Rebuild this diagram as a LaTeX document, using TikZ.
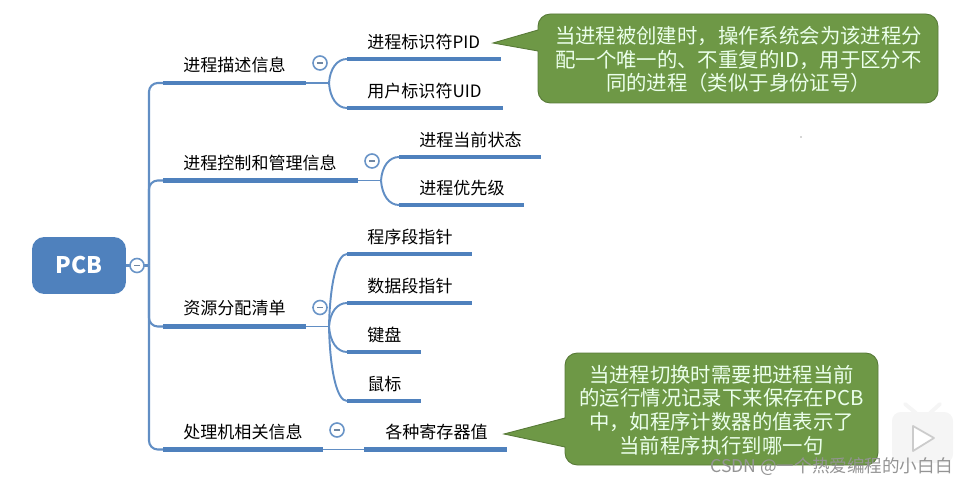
\documentclass[tikz,border=0pt]{standalone}
\usepackage{fontspec}
\setmainfont{Noto Sans CJK SC}
\definecolor{mapblue}{RGB}{79,129,189}
\definecolor{notegreen}{RGB}{110,152,70}
\tikzset{
    bar/.style={draw=mapblue, line width=2.8pt},
    limb/.style={draw=mapblue!90!white, line width=1.2pt, rounded corners=5pt},
    twig/.style={draw=mapblue!90!white, line width=1.1pt},
    tag/.style={anchor=west, inner sep=0pt, font=\fontsize{9.7}{12}\selectfont, text=black},
    fold/.style={circle, draw=mapblue!85!white, line width=.9pt, fill=white, minimum size=.28cm, inner sep=0pt,
        path picture={\draw[black!35!mapblue!70!white, line width=.8pt] (path picture bounding box.center) ++(-3,0) -- ++(6,0);}},
    note/.style={draw=notegreen!80!black, line width=.5pt, fill=notegreen},
    notetext/.style={align=center, inner sep=0pt, text=white!92!green, font=\fontsize{11.6}{13.5}\selectfont}
}
\begin{document}
\begin{tikzpicture}[x=0.02cm,y=-0.02cm]
    \useasboundingbox (0,0) rectangle (967,486);

    % root
    \node[rounded corners=7pt, fill=mapblue, text=white, minimum width=1.88cm, minimum height=1.14cm,
        font=\fontsize{13}{15}\selectfont\bfseries] (pcb) at (79,265.5) {PCB};
    \coordinate (trunk) at (149,265.5);
    \draw[limb] (pcb) -- (trunk);
    \node[fold] (foldroot) at (137,265.5) {};

    % main branches
    \foreach \b/\xr/\y/\fx/\fy/\txt in {
        desc/306/83/320/63/进程描述信息,
        ctrl/358/180.5/372/161/进程控制和管理信息,
        res/306/326.5/320/307.5/资源分配清单,
        cpu/323/449.5/337/430/处理机相关信息}
    {
        \coordinate (\b l) at (163,\y);
        \coordinate (\b r) at (\xr,\y);
        \draw[limb] (trunk) |- (\b l);
        \draw[bar] (\b l) -- (\b r);
        \node[tag] (\b text) at (183,\y-18) {\txt};
        \node[fold] (\b fold) at (\fx,\fy) {};
    }

    % junctions
    \coordinate (jdesc) at (329,83);
    \coordinate (jctrl) at (381,180.5);
    \coordinate (jres) at (329,326.5);
    \draw[twig] (descr) -- (jdesc);
    \draw[twig] (ctrlr) -- (jctrl);
    \draw[twig] (resr) -- (jres);

    % leaves
    \foreach \lf/\j/\jy/\xl/\xr/\y/\txt in {
        pid/jdesc/83/347/501/59/进程标识符PID,
        uid/jdesc/83/347/503/108/用户标识符UID,
        state/jctrl/180.5/399/541/157/进程当前状态,
        prio/jctrl/180.5/399/524/205/进程优先级,
        code/jres/326.5/347/472/254/程序段指针,
        data/jres/326.5/347/472/303/数据段指针,
        keyb/jres/326.5/347/421/352/键盘,
        mouse/jres/326.5/347/421/401/鼠标}
    {
        \coordinate (\lf l) at (\xl,\y);
        \coordinate (\lf r) at (\xr,\y);
        \draw[twig] (\j) .. controls +(1,{0.6*(\y-\jy)}) and +(-10,0) .. (\lf l);
        \draw[bar] (\lf l) -- (\lf r);
        \node[tag] (\lf text) at (\xl+20,\y-17) {\txt};
    }

    % the one leaf that hangs straight
    \coordinate (regl) at (364,449.5);
    \coordinate (regr) at (507,449.5);
    \draw[twig] (cpur) -- (regl);
    \draw[bar] (regl) -- (regr);
    \node[tag] (regtext) at (385,432) {各种寄存器值};

    % callouts
    \draw[note] (538,30) -- (493,43) -- (538,51) [rounded corners=7pt] -- (538,103) -- (938,103) -- (938,14) -- (538,14) [sharp corners] -- cycle;
    \node[notetext] (pidnote) at (738.5,59.5) {当进程被创建时，操作系统会为该进程分\\配一个唯一的、不重复的ID，用于区分不\\同的进程（类似于身份证号）};
    \draw[note] (565,418) -- (504,434) -- (565,447) [rounded corners=7pt] -- (565,465) -- (878,465) -- (878,353) -- (565,353) [sharp corners] -- cycle;
    \node[notetext] (regnote) at (721.5,410) {当进程切换时需要把进程当前\\的运行情况记录下来保存在PCB\\中，如程序计数器的值表示了\\当前程序执行到哪一句};

    % watermark
    \fill[black!4, rounded corners=5pt] (892,412) rectangle (953,463);
    \draw[black!4, line width=2.2pt, line cap=round] (905,404) -- (916,413) (940,404) -- (930,413);
    \draw[black!20, fill=white, line width=1pt, line join=round] (913,426) -- (934,438) -- (913,451) -- cycle;
    \node[anchor=east, inner sep=0pt, text=black!42, font=\fontsize{10}{12}\selectfont] (mark) at (953,467) {CSDN @一个热爱编程的小白白};

    \fill[black!70] (801,137) circle (0.7);
\end{tikzpicture}
\end{document}
